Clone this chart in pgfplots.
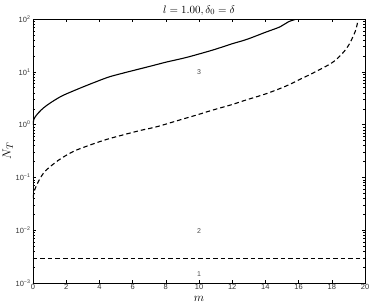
\documentclass[border=0pt]{standalone}
\usepackage{fontspec}
\setsansfont{Liberation Sans}
\usepackage{pgfplots}
\pgfplotsset{compat=1.18}
\begin{document}
\begin{tikzpicture}
\begin{axis}[
  scale only axis,
  width=332pt, height=264pt,
  ymode=log,
  xmin=0, xmax=20, ymin=1e-3, ymax=1e2,
  xtick={0,2,...,20},
  xticklabels={0,2,4,6,8,10,12,14,16,18,20},
  ytick={1e-3,1e-2,1e-1,1e0,1e1,1e2},
  yticklabels={10\textsuperscript{−3},10\textsuperscript{−2},10\textsuperscript{−1},10\textsuperscript{0},10\textsuperscript{1},10\textsuperscript{2}},
  tick label style={font=\sffamily\fontsize{7.5}{8}\selectfont, text=black!80},
  xticklabel style={yshift=2pt},
  yticklabel style={xshift=1pt},
  tick align=inside,
  major tick length=3pt,
  minor tick length=1.6pt,
  axis line style={line width=0.5pt},
  tick style={line width=0.4pt, black},
  xlabel={$m$}, ylabel={$N_T$},
  xlabel style={font=\fontsize{12}{13}\selectfont, at={(axis description cs:0.5,0)}, anchor=base, yshift=-18.5pt},
  ylabel style={font=\fontsize{13}{14}\selectfont, yshift=-4pt},
  title={$l = 1.00, \delta_0 = \delta$},
  title style={font=\fontsize{11}{12}\selectfont, yshift=-6pt},
  clip=true,
]
\addplot[black, line width=1.1pt, smooth] coordinates {
(0,1.0) (0.05,1.25) (0.2,1.5) (0.5,1.9) (0.82,2.3) (1.3,2.9) (1.83,3.6) (2.83,4.9) (3.7,6.3) (4.64,8.1) (6,10.5) (7,12.6) (8,15.2) (8.86,17.5) (9.46,19.5) (10.86,26) (12,34) (12.87,41) (14,56) (14.88,71) (15.4,89) (16,102)
};
\addplot[black, line width=1.1pt, dash pattern=on 4.5pt off 3pt, smooth] coordinates {
(0,0.041) (0.1,0.058) (0.32,0.083) (0.72,0.13) (1.52,0.21) (2.43,0.31) (3.43,0.41) (4.4,0.52) (5.44,0.64) (6.5,0.78) (7.45,0.91) (8.86,1.23) (9.86,1.52) (10.86,1.9) (12,2.4) (12.87,2.95) (14,3.8) (15.2,5.3) (16.2,7.5) (16.9,9.6) (18.1,15.5) (18.9,28) (19.4,57) (19.6,100) (19.65,112)
};
\addplot[black, line width=1.1pt, dash pattern=on 4.5pt off 3pt] coordinates {
(0,0.0029) (20,0.0029)
};
\node[font=\sffamily\fontsize{7}{8}\selectfont, text=black!70] at (axis cs:10,10) {3};
\node[font=\sffamily\fontsize{7}{8}\selectfont, text=black!70] at (axis cs:10,0.0098) {2};
\node[font=\sffamily\fontsize{7}{8}\selectfont, text=black!70] at (axis cs:10,0.0015) {1};
\end{axis}
\pgfresetboundingbox
\path[use as bounding box] ([shift={(-33pt,-20pt)}]current axis.south west) rectangle ([shift={(9pt,19pt)}]current axis.north east);
\end{tikzpicture}
\end{document}
